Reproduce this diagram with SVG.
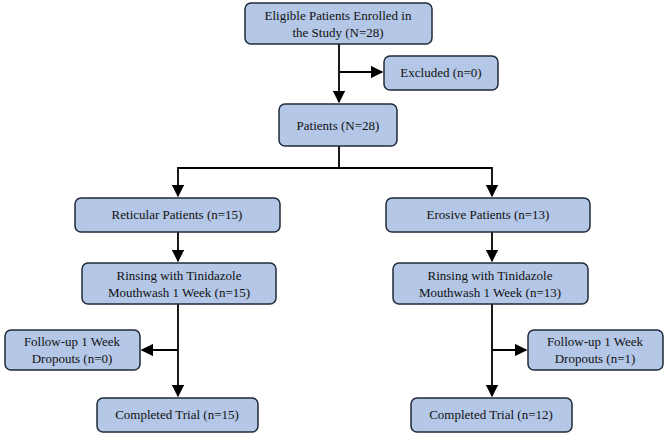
<svg xmlns="http://www.w3.org/2000/svg" width="669" height="440" viewBox="0 0 669 440">
<defs><marker id="a" viewBox="0 0 10 10" refX="9" refY="5" markerWidth="7" markerHeight="7" orient="auto"><path d="M0,0L10,5L0,10z" fill="#000"/></marker></defs>
<style>
rect{fill:#b4c7e7;stroke:#1f2a3a;stroke-width:1.5}
text{font-family:"Liberation Serif",serif;font-size:13px;fill:#111;text-anchor:middle}
.c path{fill:none;stroke:#000;stroke-width:1.8}
</style>
<rect width="669" height="440" style="fill:#fff;stroke:none"/>
<g class="c">
<path d="M339,44V102" marker-end="url(#a)"/>
<path d="M339,72H382" marker-end="url(#a)"/>
<path d="M339,146V168H178V196" marker-end="url(#a)"/>
<path d="M339,168H492V196" marker-end="url(#a)"/>
<path d="M178,232V261" marker-end="url(#a)"/>
<path d="M492,232V261" marker-end="url(#a)"/>
<path d="M178,304V396" marker-end="url(#a)"/>
<path d="M492,304V396" marker-end="url(#a)"/>
<path d="M178,350H142" marker-end="url(#a)"/>
<path d="M492,350H526" marker-end="url(#a)"/>
</g>
<g id="n1"><rect x="245" y="3" width="187" height="41" rx="6"/><text x="338" y="20">Eligible Patients Enrolled in</text><text x="338" y="37">the Study (N=28)</text></g>
<g id="n2"><rect x="384" y="56" width="114" height="34" rx="6"/><text x="441" y="77">Excluded (n=0)</text></g>
<g id="n3"><rect x="279" y="104" width="118" height="42" rx="6"/><text x="338" y="130">Patients (N=28)</text></g>
<g id="n4"><rect x="75" y="198" width="205" height="34" rx="6"/><text x="177" y="219">Reticular Patients (n=15)</text></g>
<g id="n5"><rect x="386" y="198" width="204" height="34" rx="6"/><text x="488" y="219">Erosive Patients (n=13)</text></g>
<g id="n6"><rect x="82" y="263" width="194" height="41" rx="6"/><text x="179" y="280">Rinsing with Tinidazole</text><text x="179" y="297">Mouthwash 1 Week (n=15)</text></g>
<g id="n7"><rect x="393" y="263" width="195" height="41" rx="6"/><text x="490" y="280">Rinsing with Tinidazole</text><text x="490" y="297">Mouthwash 1 Week (n=13)</text></g>
<g id="n8"><rect x="5" y="330" width="135" height="40" rx="6"/><text x="72" y="346">Follow-up 1 Week</text><text x="72" y="363">Dropouts (n=0)</text></g>
<g id="n9"><rect x="528" y="330" width="135" height="40" rx="6"/><text x="595" y="346">Follow-up 1 Week</text><text x="595" y="363">Dropouts (n=1)</text></g>
<g id="n10"><rect x="97" y="398" width="161" height="34" rx="6"/><text x="177" y="419">Completed Trial (n=15)</text></g>
<g id="n11"><rect x="411" y="398" width="161" height="34" rx="6"/><text x="491" y="419">Completed Trial (n=12)</text></g>
</svg>
